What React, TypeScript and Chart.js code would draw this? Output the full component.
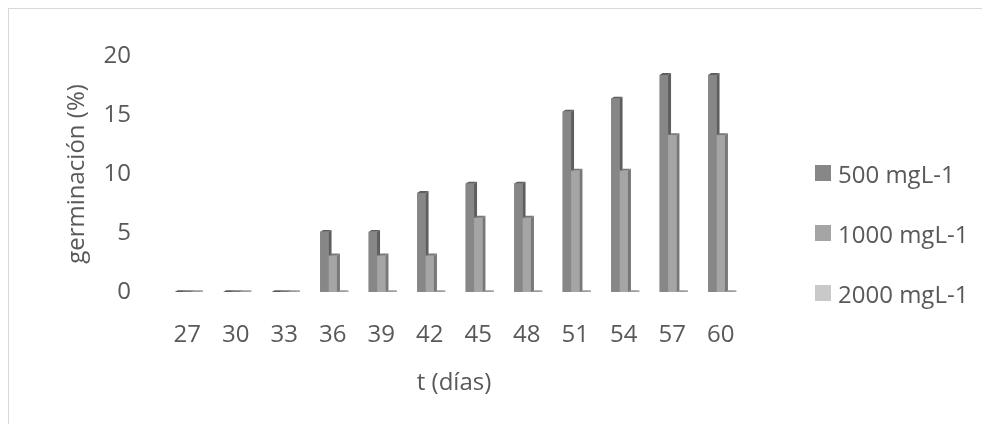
import React, { useEffect, useRef } from "react";
import { Chart, registerables } from "chart.js";

Chart.register(...registerables);

const categories = ["27", "30", "33", "36", "39", "42", "45", "48", "51", "54", "57", "60"];
const series500 = [0, 0, 0, 5.1, 5.1, 8.4, 9.2, 9.2, 15.3, 16.4, 18.4, 18.4];
const series1000 = [0, 0, 0, 3.1, 3.1, 3.1, 6.3, 6.3, 10.3, 10.3, 13.3, 13.3];
const series2000 = [0, 0, 0, 0, 0, 0, 0, 0, 0, 0, 0, 0];
const seriesLabels = ["500 mgL-1", "1000 mgL-1", "2000 mgL-1"];
const yTicks = [0, 5, 10, 15, 20];

const FONT = "'Open Sans', sans-serif";
const FS = 24;
const TEXT = "#595959";
const frontColors = ["#878787", "#a5a5a5", "#c9c9c9"];
const sideColors = ["#5e5e5e", "#787878", "#9a9a9a"];

const bars3d = {
  id: "bars3d",
  afterDatasetsDraw(chart: any) {
    const ctx = chart.ctx;
    const D = 3;
    const DY = 1.8;
    chart.data.datasets.forEach((_ds: any, i: number) => {
      const meta = chart.getDatasetMeta(i);
      meta.data.forEach((el: any) => {
        const { x, y, base, width } = el.getProps(["x", "y", "base", "width"], true);
        const l = x - width / 2;
        const r = x + width / 2;
        ctx.save();
        ctx.fillStyle = frontColors[i];
        ctx.fillRect(l, y, r - l, base - y);
        ctx.fillStyle = sideColors[i];
        ctx.beginPath();
        ctx.moveTo(r, base);
        ctx.lineTo(r, y);
        ctx.lineTo(r + D, y - DY);
        ctx.lineTo(r + D, base);
        ctx.closePath();
        ctx.fill();
        ctx.beginPath();
        ctx.moveTo(l, y);
        ctx.lineTo(l + D, y - DY);
        ctx.lineTo(r + D, y - DY);
        ctx.lineTo(r, y);
        ctx.closePath();
        ctx.fill();
        ctx.restore();
      });
    });
  },
};

export default function App() {
  const ref = useRef<HTMLCanvasElement | null>(null);

  useEffect(() => {
    if (!ref.current) return;
    const padLeft = 53.6;
    const chart = new Chart(ref.current, {
      type: "bar",
      data: {
        labels: categories,
        datasets: [
          { label: seriesLabels[0], data: series500, backgroundColor: frontColors[0] },
          { label: seriesLabels[1], data: series1000, backgroundColor: frontColors[1] },
          { label: seriesLabels[2], data: series2000, backgroundColor: frontColors[2] },
        ],
      },
      options: {
        responsive: true,
        maintainAspectRatio: false,
        animation: false,
        datasets: { bar: { categoryPercentage: 0.52, barPercentage: 1 } },
        layout: { padding: { left: padLeft, right: 254, top: 47, bottom: 31.6 } },
        plugins: { legend: { display: false }, tooltip: { enabled: false } },
        scales: {
          x: {
            grid: { display: false, drawTicks: false },
            border: { display: false },
            ticks: { color: TEXT, font: { family: FONT, size: FS }, padding: 29, maxRotation: 0 },
            title: { display: true, text: "t (días)", color: TEXT, font: { family: FONT, size: FS }, padding: 0 },
            afterFit: (s: any) => { s.height = 105.4; },
          },
          y: {
            min: 0,
            max: 20,
            grid: { display: false, drawTicks: false },
            border: { display: false },
            afterBuildTicks: (s: any) => { s.ticks = yTicks.map((v) => ({ value: v })); },
            ticks: { color: TEXT, font: { family: FONT, size: FS }, padding: 32 },
            title: { display: true, text: "germinación (%)", color: TEXT, font: { family: FONT, size: FS }, padding: 0 },
            afterFit: (s: any) => { s.width = 154 - padLeft; },
          },
        },
      },
      plugins: [bars3d],
    });
    return () => chart.destroy();
  }, []);

  const rowY = [164, 224, 284];

  return (
    <div style={{ position: "relative", width: 990, height: 420, border: "1px solid #d9d9d9" }}>
      <canvas ref={ref} />
      {seriesLabels.map((lab, i) => (
        <div key={lab} style={{ position: "absolute", left: 806, top: rowY[i] - 16, height: 32, display: "flex", alignItems: "center", fontFamily: FONT, fontSize: FS, color: TEXT, whiteSpace: "nowrap" }}>
          <span style={{ display: "inline-block", width: 16, height: 16, background: frontColors[i], marginRight: 7 }} />
          <span>{lab}</span>
        </div>
      ))}
    </div>
  );
}
